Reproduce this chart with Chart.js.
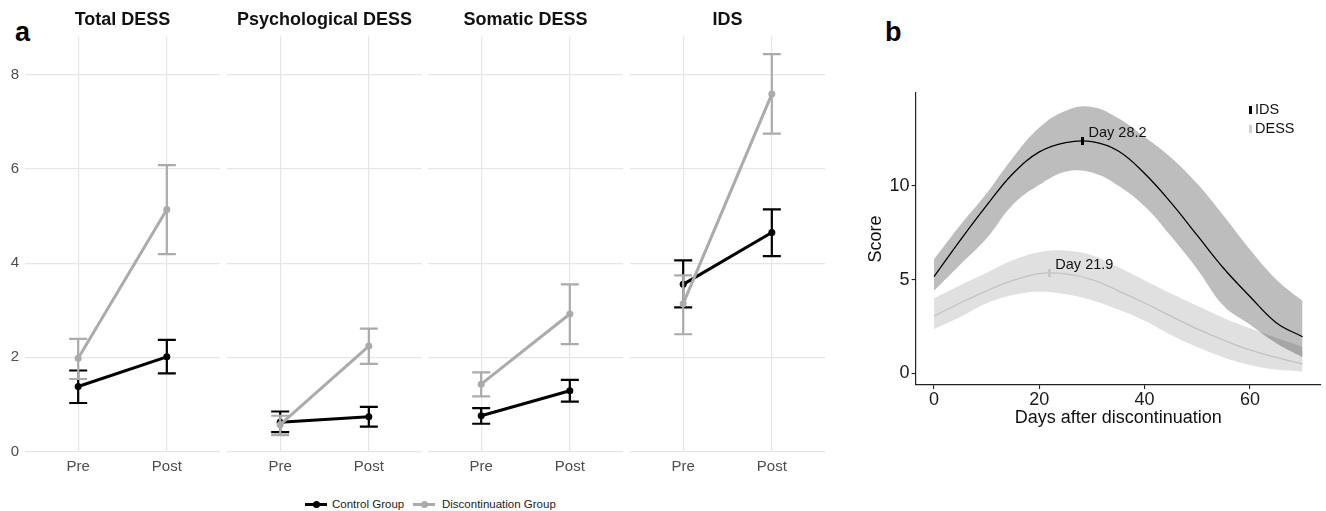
<!DOCTYPE html>
<html>
<head>
<meta charset="utf-8">
<script src="https://cdn.jsdelivr.net/npm/chart.js@4/dist/chart.umd.min.js"></script>
<style>
  body { margin: 0; width: 1326px; height: 511px; background: #fff; position: relative; overflow: hidden;
         font-family: "Liberation Sans", Arial, sans-serif; }
  .tag { position: absolute; font-size: 27px; font-weight: bold; line-height: 27px; color: #000; }
  .box { position: absolute; top: 0; }
  .key { position: absolute; top: 503px; width: 22px; height: 3px; }
  .key i { position: absolute; left: 7.5px; top: -2px; width: 7px; height: 7px; border-radius: 50%; background: inherit; }
  .ktxt { position: absolute; top: 497px; font-size: 11.5px; line-height: 14px; color: #222; }
</style>
</head>
<body>
<div class="tag" style="left:15px; top:19px">a</div>
<div class="tag" style="left:885px; top:19px">b</div>

<div class="box" id="f0" style="left:0px"></div>
<div class="box" id="f1" style="left:227px"></div>
<div class="box" id="f2" style="left:428px"></div>
<div class="box" id="f3" style="left:630px"></div>

<span class="key" style="left:305px; background:#000"><i></i></span>
<span class="ktxt" style="left:332px">Control Group</span>
<span class="key" style="left:413px; background:#ababab"><i></i></span>
<span class="ktxt" style="left:442px">Discontinuation Group</span>

<div class="box" style="left:860px"><canvas id="curveChart" width="466" height="450"></canvas></div>

<script>
// ---- panel a: pre/post means with error bars ----
const timepoints = ["Pre", "Post"];
const facetNames = ["Total DESS", "Psychological DESS", "Somatic DESS", "IDS"];
const scoreTicks = [0, 2, 4, 6, 8];

const controlMean = [[1.38, 2.01], [0.62, 0.74], [0.76, 1.29], [3.55, 4.65]];
const controlLow  = [[1.03, 1.66], [0.41, 0.53], [0.59, 1.06], [3.06, 4.15]];
const controlHigh = [[1.72, 2.37], [0.85, 0.95], [0.92, 1.52], [4.06, 5.14]];

const discMean = [[1.98, 5.14], [0.57, 2.24], [1.43, 2.92], [3.14, 7.59]];
const discLow  = [[1.54, 4.19], [0.35, 1.86], [1.17, 2.28], [2.49, 6.75]];
const discHigh = [[2.39, 6.08], [0.76, 2.61], [1.68, 3.55], [3.74, 8.44]];

// ---- panel b: fitted curves with bands ----
const days = [0, 5, 10, 15, 20, 25, 30, 35, 40, 45, 50, 55, 60, 65, 70];
const dayTicks = [0, 20, 40, 60];
const curveTicks = [0, 5, 10];
const idsScore = [5.15, 7.1, 8.95, 10.65, 11.8, 12.3, 12.35, 11.85, 10.65, 9.1, 7.35, 5.6, 4.1, 2.7, 1.95];
const idsUpper = [6.08, 7.9, 9.6, 11.5, 13.1, 14.0, 14.2, 13.6, 12.6, 11.5, 10.1, 8.4, 6.6, 5.0, 3.85];
const idsLower = [4.4, 5.8, 7.2, 9.0, 10.05, 10.75, 10.7, 10.0, 8.9, 7.3, 5.55, 3.6, 2.6, 1.6, 0.85];
const dessScore = [3.05, 3.75, 4.4, 4.95, 5.32, 5.3, 5.0, 4.4, 3.75, 3.05, 2.37, 1.77, 1.25, 0.85, 0.5];
const dessUpper = [4.0, 4.7, 5.36, 6.04, 6.46, 6.54, 6.3, 5.65, 4.95, 4.25, 3.6, 2.95, 2.4, 1.9, 1.42];
const dessLower = [2.36, 3.0, 3.73, 4.17, 4.35, 4.22, 3.9, 3.4, 2.8, 2.05, 1.4, 0.85, 0.45, 0.2, 0.1];
const curveNames = ["IDS", "DESS"];
const peakDays = [28.2, 21.9];
const peakScores = [12.38, 5.35];

const FONT = "'Liberation Sans', Arial, sans-serif";
Chart.defaults.font.family = FONT;
const GRID = "#e6e6e6";
const GREY = "#ababab";

const points = (arr) => arr.map((v, j) => ({ x: j + 1, y: v }));
const curve = (arr) => arr.map((v, j) => ({ x: days[j], y: v }));

// error bars drawn just before each dataset's line
const errorBars = {
  id: "errorBars",
  beforeDatasetDraw(chart, args) {
    const ds = chart.data.datasets[args.index];
    if (!ds.low) return;
    const { ctx, scales: { x, y } } = chart;
    ctx.save();
    ctx.strokeStyle = ds.borderColor;
    ctx.lineWidth = 2.2;
    ds.data.forEach((p, j) => {
      const px = x.getPixelForValue(p.x);
      const top = y.getPixelForValue(ds.high[j]);
      const bot = y.getPixelForValue(ds.low[j]);
      ctx.beginPath();
      ctx.moveTo(px, top); ctx.lineTo(px, bot);
      ctx.moveTo(px - 9, top); ctx.lineTo(px + 9, top);
      ctx.moveTo(px - 9, bot); ctx.lineTo(px + 9, bot);
      ctx.stroke();
    });
    ctx.restore();
  },
};

facetNames.forEach((name, i) => {
  const first = i === 0;
  const canvas = document.createElement("canvas");
  canvas.width = first ? 220 : 195;
  canvas.height = 480;
  document.getElementById("f" + i).appendChild(canvas);

  new Chart(canvas, {
    type: "line",
    data: {
      datasets: [
        {
          label: "Discontinuation Group",
          data: points(discMean[i]),
          low: discLow[i], high: discHigh[i],
          borderColor: GREY, backgroundColor: GREY,
          borderWidth: 3, pointRadius: 3.5, pointBorderWidth: 0, order: 0,
        },
        {
          label: "Control Group",
          data: points(controlMean[i]),
          low: controlLow[i], high: controlHigh[i],
          borderColor: "#000", backgroundColor: "#000",
          borderWidth: 3, pointRadius: 3.5, pointBorderWidth: 0, order: 1,
        },
      ],
    },
    options: {
      responsive: false,
      animation: false,
      layout: { padding: 0, autoPadding: false },
      plugins: {
        legend: { display: false },
        tooltip: { enabled: false },
        title: {
          display: true, text: name, fullSize: false, color: "#111",
          font: { size: 18, weight: "bold" }, padding: { top: 9, bottom: 6 },
        },
      },
      scales: {
        x: {
          type: "linear", min: 0.4, max: 2.6,
          afterBuildTicks: (s) => { s.ticks = timepoints.map((t, j) => ({ value: j + 1 })); },
          afterFit: (s) => { s.height = 28; },
          ticks: { callback: (v) => timepoints[v - 1], color: "#4d4d4d", font: { size: 15 }, padding: 6 },
          grid: { color: GRID, lineWidth: 1.2, drawTicks: false },
          border: { display: false },
        },
        y: {
          min: -0.01, max: 8.81,
          afterBuildTicks: (s) => { s.ticks = scoreTicks.map((v) => ({ value: v })); },
          afterFit: (s) => { s.width = first ? 25 : 0; },
          ticks: { display: first, color: "#4d4d4d", font: { size: 15 }, padding: 6 },
          grid: { color: GRID, lineWidth: 1.2, drawTicks: false },
          border: { display: false },
        },
      },
    },
    plugins: [errorBars],
  });
});

// peak labels and legend for panel b
const curveNotes = {
  id: "curveNotes",
  afterDatasetsDraw(chart) {
    const { ctx, chartArea, scales: { x, y } } = chart;
    ctx.save();
    ctx.font = "14.5px " + FONT;
    ctx.textBaseline = "middle";
    ctx.fillStyle = "#111";
    peakDays.forEach((d, k) => {
      ctx.fillText("Day " + d.toFixed(1), x.getPixelForValue(d) + 6, y.getPixelForValue(peakScores[k]) - 8);
    });
    const keyColors = ["#000", "#d0d0d0"];
    const lx = chartArea.right - 72, ly = chartArea.top + 17;
    curveNames.forEach((n, k) => {
      ctx.fillStyle = keyColors[k];
      ctx.fillRect(lx, ly + k * 19 - 4, 3, 8);
      ctx.fillStyle = "#111";
      ctx.fillText(n, lx + 6, ly + k * 19);
    });
    ctx.restore();
  },
};

const band = { borderWidth: 0, pointRadius: 0, tension: 0.4 };

new Chart(document.getElementById("curveChart"), {
  type: "line",
  data: {
    datasets: [
      { ...band, label: "DESS lower", data: curve(dessLower), fill: false, order: 4 },
      { ...band, label: "DESS upper", data: curve(dessUpper), fill: "-1", backgroundColor: "rgba(0,0,0,0.12)", order: 4 },
      { ...band, label: "IDS lower", data: curve(idsLower), fill: false, order: 3 },
      { ...band, label: "IDS upper", data: curve(idsUpper), fill: "-1", backgroundColor: "rgba(0,0,0,0.26)", order: 3 },
      { label: "DESS", data: curve(dessScore), borderColor: "#c2c2c2", borderWidth: 1.3, pointRadius: 0, fill: false, tension: 0.4, order: 1 },
      { label: "IDS", data: curve(idsScore), borderColor: "#000", borderWidth: 1.3, pointRadius: 0, fill: false, tension: 0.4, order: 0 },
      {
        label: "Peak", data: peakDays.map((d, k) => ({ x: d, y: peakScores[k] })),
        showLine: false, pointStyle: "line", rotation: 90, pointRadius: 4,
        pointBorderWidth: 3, pointBorderColor: ["#000", "#c8c8c8"], order: -1,
      },
    ],
  },
  options: {
    responsive: false,
    animation: false,
    layout: { padding: { top: 93, right: 5, bottom: 15, left: 0 }, autoPadding: false },
    plugins: { legend: { display: false }, tooltip: { enabled: false } },
    scales: {
      x: {
        type: "linear", min: -3.5, max: 73.5,
        afterBuildTicks: (s) => { s.ticks = dayTicks.map((v) => ({ value: v })); },
        afterFit: (s) => { s.height = 50; },
        ticks: { color: "#1a1a1a", font: { size: 18 }, padding: 0 },
        grid: { drawOnChartArea: false, tickLength: 4, color: "#222", lineWidth: 1.1 },
        border: { color: "#222", width: 1.2 },
        title: { display: true, text: "Days after discontinuation", color: "#111", font: { size: 18 }, padding: { bottom: 6 } },
      },
      y: {
        min: -0.62, max: 14.94,
        afterBuildTicks: (s) => { s.ticks = curveTicks.map((v) => ({ value: v })); },
        afterFit: (s) => { s.width = 55.6; },
        ticks: { color: "#1a1a1a", font: { size: 18 }, padding: 2 },
        grid: { drawOnChartArea: false, tickLength: 4, color: "#222", lineWidth: 1.1 },
        border: { color: "#222", width: 1.2 },
        title: { display: true, text: "Score", color: "#111", font: { size: 18 }, padding: { top: 5 } },
      },
    },
  },
  plugins: [curveNotes],
});
</script>
</body>
</html>
